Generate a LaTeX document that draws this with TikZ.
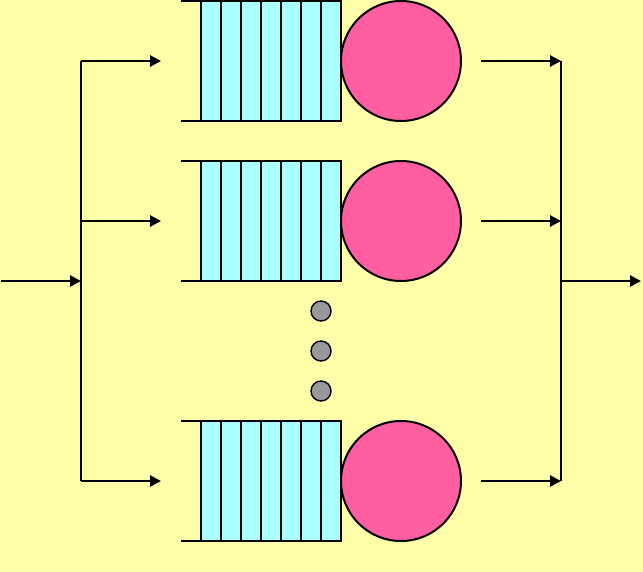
\documentclass[tikz,border=0pt]{standalone}
\usetikzlibrary{arrows.meta,positioning}
\definecolor{bgyellow}{RGB}{255,255,170}
\definecolor{qcyan}{RGB}{170,255,255}
\definecolor{srvpink}{RGB}{255,95,160}
\definecolor{dotgray}{RGB}{153,153,153}
\tikzset{
  flow/.style={draw, line width=1.4pt, -{Triangle[length=5.5pt,width=5.5pt]}},
  wire/.style={draw, line width=1.4pt},
  server/.style={circle, draw, line width=1pt, fill=srvpink, minimum size=60pt, inner sep=0pt, outer sep=0pt},
  buffer/.style={rectangle, draw, line width=1.4pt, fill=qcyan, minimum width=70pt, minimum height=60pt, inner sep=0pt, outer sep=0pt},
  more/.style={circle, draw, line width=0.7pt, fill=dotgray, minimum size=10pt, inner sep=0pt}
}

\begin{document}
\begin{tikzpicture}[x=0.5pt, y=-0.5pt]
    \fill[bgyellow] (0,0) rectangle (643,572);
    \useasboundingbox (0,0) rectangle (643,572);

    % queues with their servers
    \foreach \i/\y in {1/61, 2/221, 3/481} {
        \node (q\i) [buffer] at (271,\y) {};
        \foreach \k in {1,...,6}
            \draw[wire] ([xshift=\k*10pt]q\i.north west) -- ([xshift=\k*10pt]q\i.south west);
        \draw[wire] (q\i.north west) -- ++(-20,0);
        \draw[wire] (q\i.south west) -- ++(-20,0);
        \node (s\i) [server, right=0pt of q\i] {};

        \coordinate (b\i) at (81,\y);
        \coordinate (e\i) at (161,\y);
        \coordinate (f\i) at (481,\y);
        \coordinate (m\i) at (561,\y);
        \path[flow] (b\i) -- (e\i);
        \path[flow] (f\i) -- (m\i);
    }

    % more queues
    \node (d1) [more] at (321,311) {};
    \node (d2) [more] at (321,351) {};
    \node (d3) [more] at (321,391) {};

    % split and merge
    \coordinate (in) at (1,281);
    \coordinate (split) at (81,281);
    \coordinate (merge) at (561,281);
    \coordinate (out) at (641,281);
    \path[wire] (b1) -- (b3);
    \path[wire] (m1) -- (m3);
    \path[flow] (in) -- (split);
    \path[flow] (merge) -- (out);
\end{tikzpicture}
\end{document}
